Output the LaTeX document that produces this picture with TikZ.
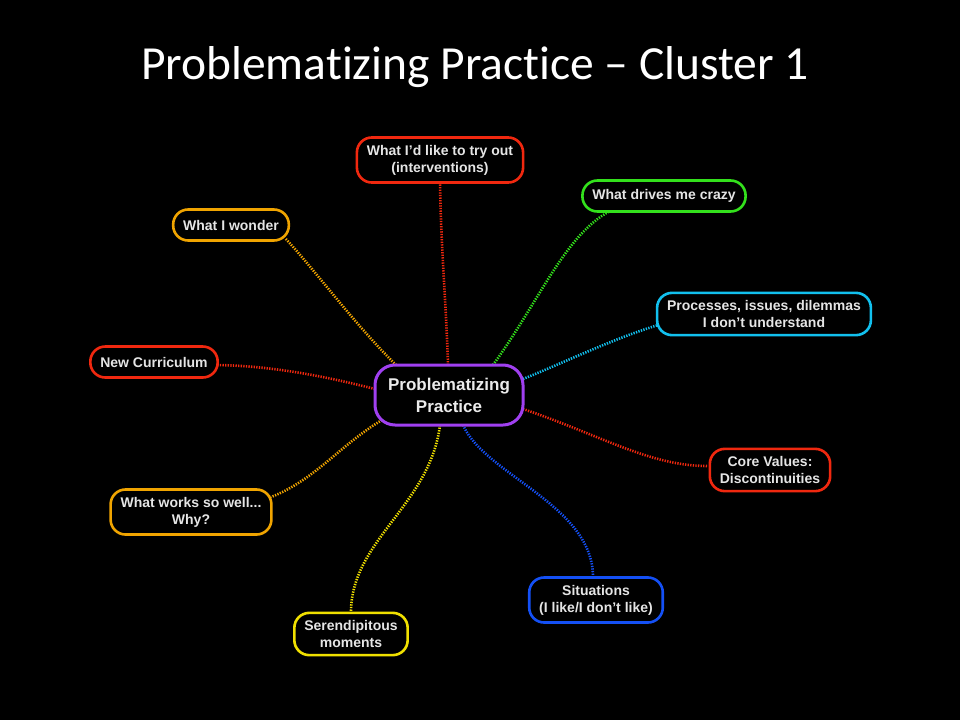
\documentclass[tikz,border=0pt]{standalone}
\usepackage{fontspec}
\setmainfont{Liberation Sans}
\newfontfamily\titlefont[Ligatures=NoCommon]{Carlito}
\usetikzlibrary{calc,backgrounds}
\begin{document}
\begin{tikzpicture}[x=1pt,y=-1pt,
  leaf/.style={draw=#1, line width=2.6pt, rounded corners=15pt, fill=black,
    text=white!90!black, font=\bfseries\fontsize{14}{17}\selectfont, align=center,
    inner xsep=10pt, inner ysep=7.5pt, minimum height=31pt},
  hub/.style={draw=#1, line width=3pt, rounded corners=20pt, fill=black,
    text=white!92!black, font=\bfseries\fontsize{17}{22}\selectfont, align=center,
    minimum width=148pt, minimum height=60pt},
  link/.style={draw=#1, line width=2.6pt, dash pattern=on 1.3pt off 1.3pt}
]
\definecolor{cred}{HTML}{F0280F}
\definecolor{cgreen}{HTML}{33E01C}
\definecolor{corange}{HTML}{F0A400}
\definecolor{ccyan}{HTML}{12C0EE}
\definecolor{cblue}{HTML}{1450F5}
\definecolor{cyellow}{HTML}{F0E000}
\definecolor{cpurple}{HTML}{A040F0}
\useasboundingbox (0,0) rectangle (960,720);

\node[font=\titlefont\fontsize{47.5}{54}\selectfont, text=white, anchor=base] (title) at (475,79) {Problematizing Practice – Cluster 1};

\node[hub=cpurple] (hub) at (449,395) {Problematizing\\Practice};
\node[leaf=cred] (try) at (440,160) {What I'd like to try out\\(interventions)};
\node[leaf=cgreen] (crazy) at (664,196) {What drives me crazy};
\node[leaf=corange] (wonder) at (231,225) {What I wonder};
\node[leaf=ccyan] (proc) at (764,314) {Processes, issues, dilemmas\\I don't understand};
\node[leaf=cred] (curr) at (154,362) {New Curriculum};
\node[leaf=cred] (core) at (770,470) {Core Values:\\Discontinuities};
\node[leaf=corange] (works) at (191,512) {What works so well...\\Why?};
\node[leaf=cblue] (sit) at (596,600) {Situations\\(I like/I don't like)};
\node[leaf=cyellow] (ser) at (351,634) {Serendipitous\\moments};

\begin{scope}[on background layer]
\fill[black] (0,0) rectangle (960,720);
\draw[link=cred] ($(hub.center)+(-1,-30)$) .. controls (446,300) and (441,250) .. ($(try.center)+(0,22)$);
\draw[link=cgreen] ($(hub.center)+(44,-30)$) .. controls (540,300) and (565,235) .. ($(crazy.center)+(-54,15)$);
\draw[link=corange] ($(hub.center)+(-51,-28)$) .. controls (355,325) and (315,270) .. ($(wonder.center)+(54,13)$);
\draw[link=ccyan] ($(hub.center)+(74,-16)$) .. controls (570,360) and (610,340) .. ($(proc.center)+(-106,11)$);
\draw[link=cred] ($(hub.center)+(-74,-6)$) .. controls (320,375) and (270,366) .. ($(curr.center)+(64,3)$);
\draw[link=cred] ($(hub.center)+(74,14)$) .. controls (600,435) and (650,466) .. ($(core.center)+(-63,-4)$);
\draw[link=corange] ($(hub.center)+(-67,25)$) .. controls (340,445) and (315,480) .. ($(works.center)+(80,-15)$);
\draw[link=cblue] ($(hub.center)+(14,30)$) .. controls (485,475) and (593,505) .. ($(sit.center)+(-3,-23)$);
\draw[link=cyellow] ($(hub.center)+(-9,30)$) .. controls (430,505) and (352,540) .. ($(ser.center)+(0,-23)$);
\end{scope}
\end{tikzpicture}
\end{document}
